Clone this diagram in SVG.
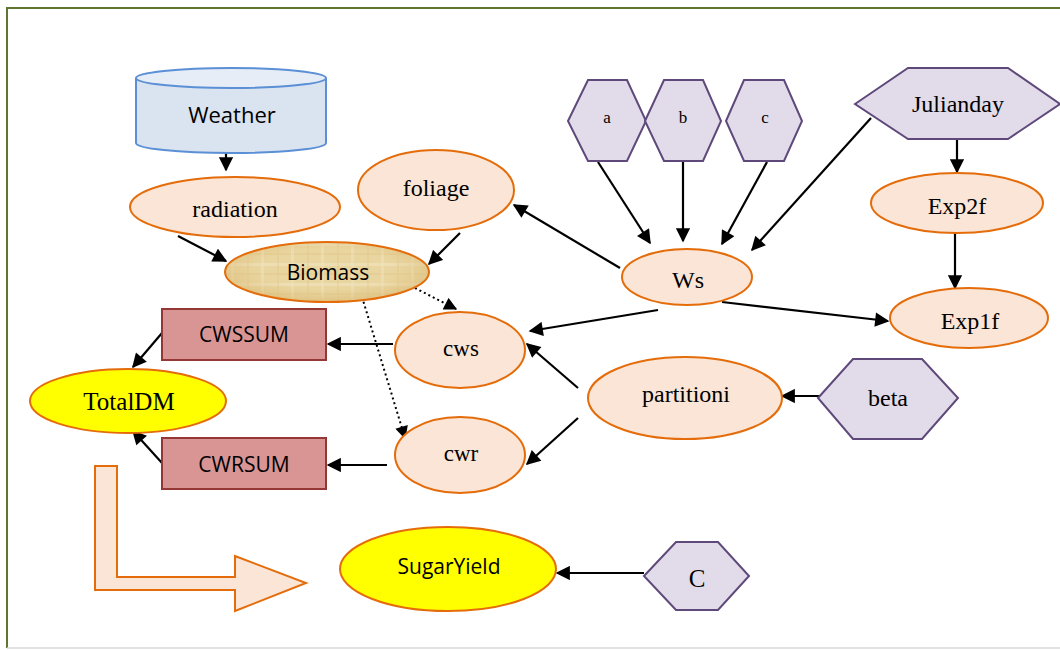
<svg xmlns="http://www.w3.org/2000/svg" width="1060" height="650" viewBox="0 0 1060 650">
<style>
.ell{fill:#fbe5d6;stroke:#e46c0a;stroke-width:2}
.yel{fill:#ffff00;stroke:#e46c0a;stroke-width:2}
.hex{fill:#e2dcea;stroke:#5f497a;stroke-width:2}
.box{fill:#d99594;stroke:#953735;stroke-width:2}
.ser{font-family:"Liberation Serif","Times New Roman",serif;fill:#000;text-anchor:middle;dominant-baseline:central;font-size:24px}
.san{font-family:"Open Sans","Liberation Sans",sans-serif;fill:#000;text-anchor:middle;dominant-baseline:central;font-size:21px}
.c{stroke:#000;stroke-width:2.2;fill:none;marker-end:url(#ah)}
.d{stroke:#000;stroke-width:2;fill:none;stroke-dasharray:2 3;marker-end:url(#ah)}
</style>
<defs>
<marker id="ah" viewBox="0 0 10 10" refX="9" refY="5" markerWidth="7" markerHeight="6.5" orient="auto" markerUnits="strokeWidth">
<path d="M0,0 L10,5 L0,10 z" fill="#000"/>
</marker>
<pattern id="tex" width="30" height="20" patternUnits="userSpaceOnUse">
<rect width="30" height="20" fill="#e9d59f"/>
<rect x="0" y="3" width="30" height="3" fill="#eee0b8" opacity="0.8"/>
<rect x="0" y="13" width="30" height="2" fill="#e4cd94" opacity="0.8"/>
<rect x="7" y="0" width="2" height="20" fill="#e3cb91" opacity="0.5"/>
<rect x="21" y="0" width="3" height="20" fill="#f0e4c2" opacity="0.5"/>
</pattern>
<radialGradient id="shade" cx="0.5" cy="0.45" r="0.55">
<stop offset="0.6" stop-color="#e0c385" stop-opacity="0"/>
<stop offset="1" stop-color="#d8b66f" stop-opacity="0.6"/>
</radialGradient>
</defs>
<rect x="0" y="0" width="1060" height="650" fill="#fff"/>
<path d="M1062,8 H7 V648" fill="none" stroke="#5f7530" stroke-width="2"/>
<line x1="7" y1="648" x2="1060" y2="648" stroke="#d8d8d8" stroke-width="1.5"/>

<g id="connectors">
<line class="c" x1="226" y1="152" x2="226" y2="170"/>
<line class="c" x1="178" y1="236" x2="226" y2="261"/>
<line class="c" x1="460" y1="233" x2="429" y2="264"/>
<line class="d" x1="415" y1="288" x2="456" y2="309"/>
<line class="d" x1="362" y1="297" x2="405" y2="438"/>
<line class="c" x1="598" y1="162" x2="650" y2="243"/>
<line class="c" x1="683" y1="162" x2="683" y2="241"/>
<line class="c" x1="767" y1="162" x2="722" y2="244"/>
<line class="c" x1="871" y1="118" x2="752" y2="250"/>
<line class="c" x1="620" y1="268" x2="514" y2="205"/>
<line class="c" x1="658" y1="310" x2="530" y2="331"/>
<line class="c" x1="722" y1="302" x2="888" y2="321"/>
<line class="c" x1="957" y1="139" x2="957" y2="172"/>
<line class="c" x1="955" y1="233" x2="955" y2="288"/>
<line class="c" x1="820" y1="396" x2="782" y2="396"/>
<line class="c" x1="578" y1="388" x2="527" y2="344"/>
<line class="c" x1="578" y1="418" x2="527" y2="464"/>
<line class="c" x1="393" y1="344" x2="328" y2="344"/>
<line class="c" x1="387" y1="465" x2="328" y2="465"/>
<line class="c" x1="162" y1="333" x2="133" y2="367"/>
<line class="c" x1="162" y1="463" x2="133" y2="431"/>
<line class="c" x1="644" y1="573" x2="557" y2="573"/>
</g>

<g id="bentarrow">
<path d="M95,466 H117 V577 H235 V556 L306,583 L235,611 V590 H95 Z" fill="#fbe5d6" stroke="#e46c0a" stroke-width="2"/>
</g>

<g id="weather">
<path d="M136,78 V143 A95,10 0 0 0 326,143 V78" fill="#dae3f0" stroke="#5b8fd6" stroke-width="2"/>
<ellipse cx="231" cy="78" rx="95" ry="10" fill="#e6edf7" stroke="#5b8fd6" stroke-width="2"/>
<text class="san" x="232" y="114" style="font-size:22px">Weather</text>
</g>
<g id="radiation"><ellipse class="ell" cx="235" cy="207" rx="105" ry="30"/><text class="ser" x="235" y="209">radiation</text></g>
<g id="foliage"><ellipse class="ell" cx="436" cy="190" rx="78" ry="40"/><text class="ser" x="436" y="188">foliage</text></g>
<g id="biomass">
<ellipse cx="327" cy="272" rx="102" ry="30" fill="url(#tex)"/>
<ellipse cx="327" cy="272" rx="102" ry="30" fill="url(#shade)" stroke="#e46c0a" stroke-width="2"/>
<text class="san" x="328" y="272">Biomass</text></g>
<g id="a"><polygon class="hex" points="568,121 588,80 627,80 646,121 627,161 588,161"/><text class="ser" x="607" y="117" style="font-size:17px">a</text></g>
<g id="b"><polygon class="hex" points="645,121 664,80 703,80 721,121 703,161 664,161"/><text class="ser" x="683" y="117" style="font-size:17px">b</text></g>
<g id="c"><polygon class="hex" points="726,121 744,80 784,80 802,121 784,161 744,161"/><text class="ser" x="765" y="117" style="font-size:17px">c</text></g>
<g id="julianday"><polygon class="hex" points="855,104 908,68 1008,68 1060,104 1008,139 908,139"/><text class="ser" x="958" y="104">Julianday</text></g>
<g id="ws"><ellipse class="ell" cx="687" cy="277" rx="65" ry="28"/><text class="ser" x="688" y="280">Ws</text></g>
<g id="exp2f"><ellipse class="ell" cx="957" cy="203" rx="86" ry="30"/><text class="ser" x="957" y="206">Exp2f</text></g>
<g id="exp1f"><ellipse class="ell" cx="969" cy="318" rx="79" ry="30"/><text class="ser" x="970" y="321">Exp1f</text></g>
<g id="cws"><ellipse class="ell" cx="460" cy="350" rx="65" ry="38"/><text class="ser" x="461" y="348" style="font-size:23px">cws</text></g>
<g id="cwr"><ellipse class="ell" cx="460" cy="455" rx="65" ry="38"/><text class="ser" x="461" y="453" style="font-size:23px">cwr</text></g>
<g id="partitioni"><ellipse class="ell" cx="685" cy="398" rx="97" ry="41"/><text class="ser" x="686" y="394">partitioni</text></g>
<g id="beta"><polygon class="hex" points="818,398 853,359 922,359 958,398 922,439 853,439"/><text class="ser" x="888" y="398">beta</text></g>
<g id="cwssum"><rect class="box" x="162" y="309" width="164" height="51"/><text class="san" x="244" y="334">CWSSUM</text></g>
<g id="cwrsum"><rect class="box" x="162" y="438" width="164" height="51"/><text class="san" x="244" y="464">CWRSUM</text></g>
<g id="totaldm"><ellipse class="yel" cx="128" cy="401" rx="98" ry="32"/><text class="ser" x="129" y="401" style="font-size:25px">TotalDM</text></g>
<g id="sugaryield"><ellipse class="yel" cx="448" cy="569" rx="108" ry="42"/><text class="san" x="449" y="566">SugarYield</text></g>
<g id="C"><polygon class="hex" points="644,576 676,542 718,542 749,576 718,610 676,610"/><text class="ser" x="697" y="578" style="font-size:25px">C</text></g>
</svg>
